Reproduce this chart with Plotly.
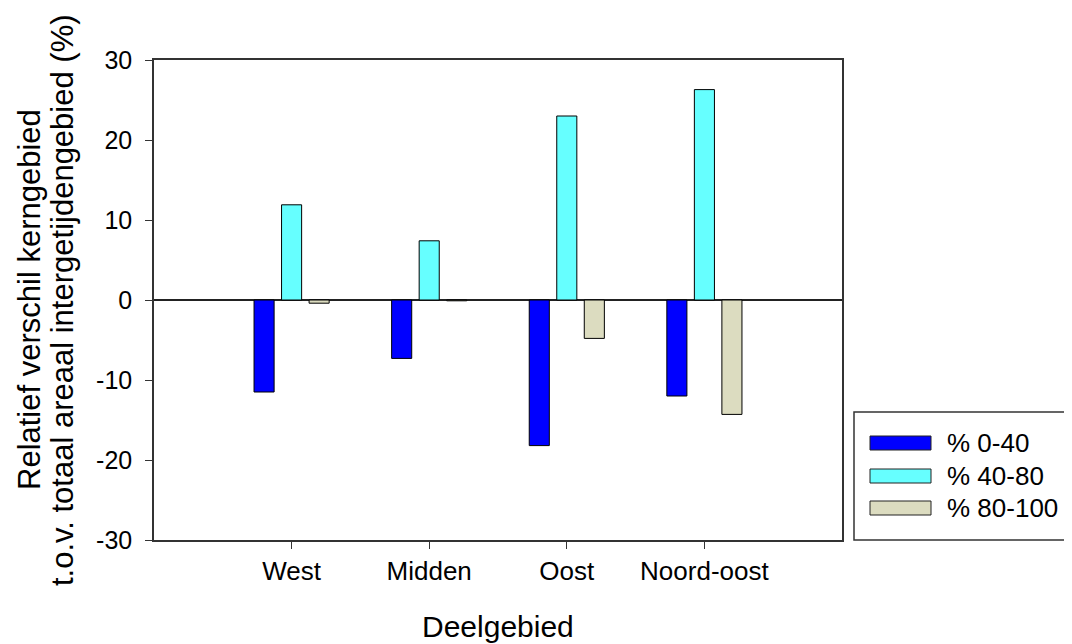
import plotly.graph_objects as go

categories = ["West", "Midden", "Oost", "Noord-oost"]
series_names = ["% 0-40", "% 40-80", "% 80-100"]
vals_0_40 = [-11.5, -7.3, -18.2, -12.0]
vals_40_80 = [11.9, 7.4, 23.0, 26.3]
vals_80_100 = [-0.4, -0.1, -4.8, -14.3]
colors = ["#0000FF", "#66FFFF", "#DCDCC0"]
y_ticks = [-30, -20, -10, 0, 10, 20, 30]
y_ticktext = ["-30", "-20", "-10", "0", "10", "20", "30"]
y_title_lines = ["Relatief verschil kerngebied", "t.o.v. totaal areaal intergetijdengebied (%)"]
x_title = "Deelgebied"

series = [vals_0_40, vals_40_80, vals_80_100]
xpos = list(range(len(categories)))

FONT = "Liberation Sans, Arial, sans-serif"
W, H = 1072, 644
OFF = 8  # page body margin
L, R, T, B = 146, 238, 52, 112
PW = W - L - R
PH = H - T - B


def sx(px):
    return (px - OFF - L) / PW


def sy(py):
    return (H - B - (py - OFF)) / PH


fig = go.Figure()
for name, vals, col in zip(series_names, series, colors):
    fig.add_trace(go.Bar(x=xpos, y=vals, name=name,
                         marker=dict(color=col, line=dict(color="black", width=1)),
                         showlegend=False))

AX = "#333333"
fig.update_layout(
    width=W, height=H,
    margin=dict(l=L, r=R, t=T, b=B),
    plot_bgcolor="white", paper_bgcolor="white",
    barmode="group", bargap=0.4, bargroupgap=0.27,
    font=dict(family=FONT, size=25, color="black"),
    xaxis=dict(range=[-1, 4], tickvals=xpos, ticktext=categories, showline=True, mirror=True,
               linecolor=AX, linewidth=1.5, ticks="outside", ticklen=7, tickcolor=AX,
               tickfont=dict(size=26), showgrid=False, zeroline=False),
    yaxis=dict(range=[-30, 30], tickvals=y_ticks, ticktext=y_ticktext, showline=True, mirror=True,
               linecolor=AX, linewidth=1.5, ticks="outside", ticklen=7, tickcolor=AX,
               tickfont=dict(size=25), ticklabelstandoff=8, showgrid=False,
               zeroline=True, zerolinecolor="#222222", zerolinewidth=1.5),
)

# axis titles
fig.add_annotation(xref="paper", yref="paper", x=sx(498), y=sy(626), text=x_title,
                   showarrow=False, xanchor="center", yanchor="middle",
                   font=dict(size=30, family=FONT, color="black"))
for txt, cx in zip(y_title_lines, [29, 62]):
    fig.add_annotation(xref="paper", yref="paper", x=sx(cx), y=sy(300), text=txt, textangle=-90,
                       showarrow=False, xanchor="center", yanchor="middle",
                       font=dict(size=31, family=FONT, color="black"))

# custom legend box
fig.add_shape(type="rect", xref="paper", yref="paper",
              x0=sx(854), x1=sx(1070), y0=sy(540), y1=sy(412),
              line=dict(color=AX, width=1.5), fillcolor="white")
rows_y = [443, 476, 508]
for name, col, ry in zip(series_names, colors, rows_y):
    fig.add_shape(type="rect", xref="paper", yref="paper",
                  x0=sx(870), x1=sx(931), y0=sy(ry + 7), y1=sy(ry - 7),
                  line=dict(color="#222222", width=1), fillcolor=col)
    fig.add_annotation(xref="paper", yref="paper", x=sx(945), y=sy(ry), text=name,
                       showarrow=False, xanchor="left", yanchor="middle",
                       font=dict(size=26, family=FONT, color="black"))

fig.write_html("out.html")
